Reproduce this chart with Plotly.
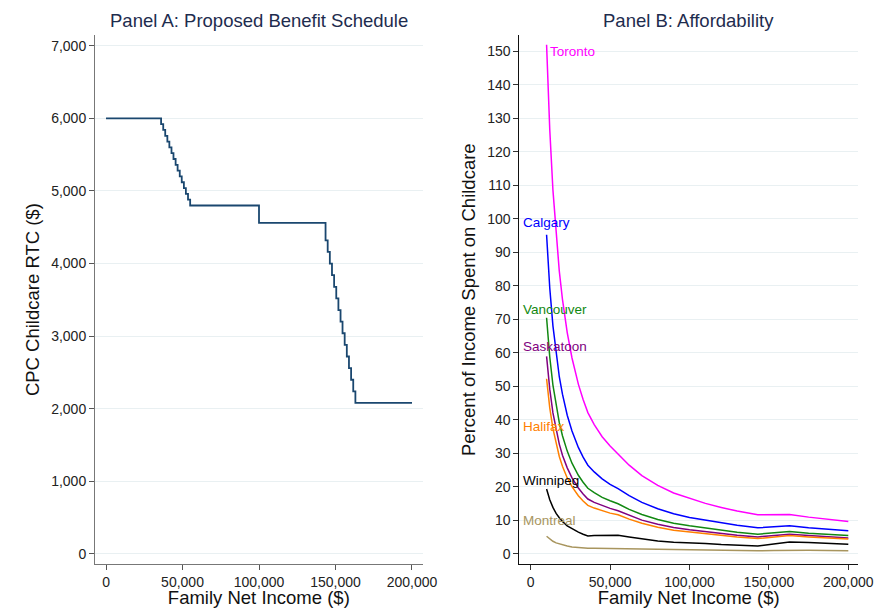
import plotly.graph_objects as go

# ---------------- Panel A data: proposed benefit schedule (step function) ----------------
income_a = [0, 36000, 37400, 38700, 40100, 41400, 42800, 44100, 45500, 46800, 48200,
            49500, 50900, 52200, 53600, 55000, 100000,
            143500, 144900, 146300, 147700, 149100, 150500, 151900, 153300, 154600,
            156000, 157400, 158800, 160200, 161600, 163000, 200000]
benefit_a = [6000, 5920, 5840, 5760, 5680, 5600, 5520, 5440, 5360, 5280, 5200,
             5120, 5040, 4960, 4880, 4800, 4560,
             4320, 4160, 4000, 3840, 3680, 3520, 3360, 3200, 3040,
             2880, 2720, 2560, 2400, 2240, 2080, 2080]

# ---------------- Panel B data: percent of income spent on childcare ----------------
income_b = [10000, 12000, 14000, 16000, 18000, 20000, 23000, 26000, 30000, 33000, 36000,
            40000, 45000, 50000, 55000, 62000, 70000, 80000, 90000, 100000, 110000,
            120000, 130000, 143000, 153000, 163000, 175000, 187000, 200000]

toronto = [152.0, 126.7, 108.6, 95.0, 84.4, 76.0, 66.1, 58.5, 50.7, 46.1, 42.2,
           38.6, 35.0, 32.2, 29.8, 26.5, 23.4, 20.5, 18.2, 16.6, 15.1,
           13.9, 12.8, 11.7, 11.8, 11.8, 11.0, 10.3, 9.7]
calgary = [95.3, 79.4, 68.1, 59.6, 52.9, 47.7, 41.4, 36.7, 31.8, 28.9, 26.5,
           24.5, 22.4, 20.8, 19.5, 17.4, 15.4, 13.5, 12.0, 10.9, 10.1,
           9.3, 8.6, 7.8, 8.1, 8.4, 7.8, 7.3, 6.9]
vancouver = [70.5, 58.8, 50.4, 44.1, 39.2, 35.3, 30.7, 27.1, 23.5, 21.4, 19.6,
             18.3, 16.9, 15.9, 15.0, 13.3, 11.8, 10.3, 9.2, 8.4, 7.7,
             7.1, 6.5, 5.9, 6.3, 6.7, 6.2, 5.8, 5.5]
saskatoon = [59.0, 49.2, 42.1, 36.9, 32.8, 29.5, 25.7, 22.7, 19.7, 17.9, 16.4,
             15.4, 14.4, 13.6, 12.9, 11.5, 10.1, 8.9, 7.9, 7.2, 6.6,
             6.1, 5.6, 5.1, 5.5, 5.9, 5.5, 5.1, 4.8]
halifax = [52.3, 43.6, 37.4, 32.7, 29.1, 26.2, 22.7, 20.1, 17.4, 15.8, 14.5,
           13.7, 12.9, 12.2, 11.7, 10.4, 9.2, 8.0, 7.1, 6.6, 6.0,
           5.5, 5.1, 4.6, 5.1, 5.5, 5.1, 4.8, 4.5]
winnipeg = [19.4, 16.2, 13.9, 12.1, 10.8, 9.7, 8.4, 7.5, 6.5, 5.9, 5.4,
            5.5, 5.5, 5.5, 5.6, 5.1, 4.5, 3.9, 3.5, 3.4, 3.1,
            2.8, 2.6, 2.4, 3.0, 3.6, 3.4, 3.1, 2.9]
montreal = [5.3, 4.4, 3.8, 3.3, 3.0, 2.7, 2.4, 2.1, 1.9, 1.8, 1.7,
            1.7, 1.7, 1.7, 1.7, 1.6, 1.5, 1.4, 1.3, 1.2, 1.15,
            1.1, 1.0, 0.95, 1.05, 1.15, 1.1, 1.05, 1.0]

cities = ["Toronto", "Calgary", "Vancouver", "Saskatoon", "Halifax", "Winnipeg", "Montreal"]
city_values = [toronto, calgary, vancouver, saskatoon, halifax, winnipeg, montreal]
city_colors = ["#ff00ff", "#0000ff", "#118811", "#800080", "#ff8000", "#000000", "#a8955e"]
label_y = [150, 99, 73, 62, 38, 22, 10]

x_ticks = [0, 50000, 100000, 150000, 200000]
x_tick_text = ["0", "50,000", "100,000", "150,000", "200,000"]
a_y_ticks = [0, 1000, 2000, 3000, 4000, 5000, 6000, 7000]
a_y_text = ["0", "1,000", "2,000", "3,000", "4,000", "5,000", "6,000", "7,000"]
b_y_ticks = list(range(0, 151, 10))

FONT = "Liberation Sans, Arial, Helvetica, sans-serif"
GRID = "#e9f0f2"
TICKFONT = dict(family=FONT, size=14, color="#222")
TITLEFONT = dict(family=FONT, size=18.5, color="#111")

fig = go.Figure()

fig.add_trace(go.Scatter(x=income_a, y=benefit_a, mode="lines", line_shape="hv",
                         line=dict(color="#1a476f", width=1.8), xaxis="x", yaxis="y",
                         showlegend=False, hoverinfo="skip"))

for name, vals, col in zip(cities, city_values, city_colors):
    fig.add_trace(go.Scatter(x=income_b, y=vals, mode="lines", name=name,
                             line=dict(color=col, width=1.5), xaxis="x2", yaxis="y2",
                             showlegend=False))

annotations = []
for name, ly, col in zip(cities, label_y, city_colors):
    if name == "Toronto":
        annotations.append(dict(x=10000, y=ly, xref="x2", yref="y2", text=name,
                                showarrow=False, xanchor="left", xshift=1,
                                font=dict(family=FONT, size=13.5, color=col)))
    else:
        annotations.append(dict(x=0.004, y=ly, xref="x2 domain", yref="y2", text=name,
                                showarrow=False, xanchor="left",
                                font=dict(family=FONT, size=13.5, color=col)))

title_y = 1 - 20 / 608
annotations.append(dict(x=0.5, y=title_y, xref="x domain", yref="paper", yanchor="middle",
                        text="Panel A: Proposed Benefit Schedule", showarrow=False,
                        font=dict(family=FONT, size=18.5, color="#1e2c4e")))
annotations.append(dict(x=0.5, y=title_y, xref="x2 domain", yref="paper", yanchor="middle",
                        text="Panel B: Affordability", showarrow=False,
                        font=dict(family=FONT, size=18.5, color="#1e2c4e")))

common = dict(zeroline=False, showline=True, ticks="outside", ticklen=5,
              tickfont=TICKFONT, automargin=False)

fig.update_layout(
    width=881, height=608,
    margin=dict(l=0, r=0, t=0, b=0, autoexpand=False),
    paper_bgcolor="white", plot_bgcolor="white",
    font=dict(family=FONT),
    xaxis=dict(domain=[95/881, 422.7/881], range=[-7200, 207000], anchor="y",
               tickvals=x_ticks, ticktext=x_tick_text, linecolor="#777", tickcolor="#555",
               showgrid=False,
               title=dict(text="Family Net Income ($)", font=TITLEFONT, standoff=5),
               **common),
    yaxis=dict(domain=[1-564.3/608, 1-35/608], range=[-142, 7148], anchor="x",
               tickvals=a_y_ticks, ticktext=a_y_text, linecolor="#777", tickcolor="#555",
               showgrid=True, gridcolor=GRID, gridwidth=1,
               title=dict(text="CPC Childcare RTC ($)", font=TITLEFONT, standoff=6),
               **common),
    xaxis2=dict(domain=[519.3/881, 858/881], range=[-7180, 206100], anchor="y2",
                tickvals=x_ticks, ticktext=x_tick_text, linecolor="#111", tickcolor="#333",
                showgrid=False,
                title=dict(text="Family Net Income ($)", font=TITLEFONT, standoff=5),
                **common),
    yaxis2=dict(domain=[1-564.3/608, 1-35/608], range=[-3.08, 154.9], anchor="x2",
                tickvals=b_y_ticks, linecolor="#111", tickcolor="#333",
                showgrid=True, gridcolor=GRID, gridwidth=1,
                title=dict(text="Percent of Income Spent on Childcare", font=TITLEFONT, standoff=6),
                **common),
    annotations=annotations,
)

fig.write_html("out.html", config={"displayModeBar": False},
               post_script="document.body.style.margin='0px';document.body.style.overflow='hidden';")
